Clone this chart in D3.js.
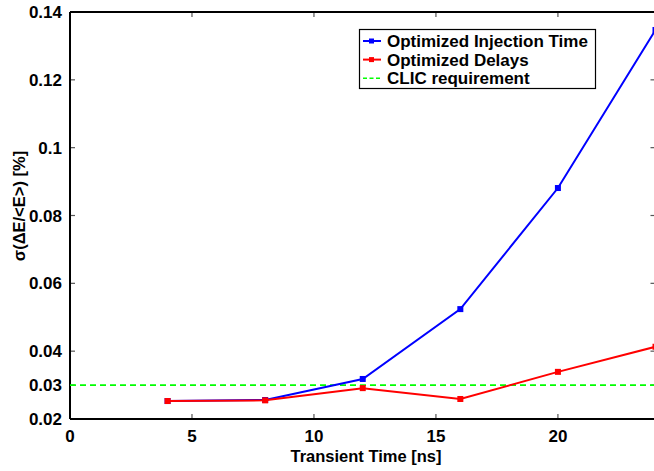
<!DOCTYPE html>
<html><head><meta charset="utf-8">
<script src="https://cdn.jsdelivr.net/npm/d3@7"></script>
<style>body{margin:0;background:#fff}svg{display:block}text{font-family:"Liberation Sans",Arial,sans-serif;font-weight:bold}</style>
</head><body><svg id="c" width="654" height="471"></svg>
<script>
const xVals = [4, 8, 12, 16, 20, 24];
const injectionTime = [0.0253, 0.0256, 0.0318, 0.0524, 0.0881, 0.1347];
const delays = [0.0253, 0.0255, 0.0291, 0.0259, 0.0339, 0.0413];
const requirement = 0.03;
const xTicks = [0, 5, 10, 15, 20];
const yTicks = [0.02, 0.03, 0.04, 0.06, 0.08, 0.1, 0.12, 0.14];
const legendLabels = ["Optimized Injection Time", "Optimized Delays", "CLIC requirement"];

const svg = d3.select("#c");
const L = 70, R = 655.5, T = 12, B = 419;
const x = d3.scaleLinear().domain([0, 24]).range([L, R]);
const y = d3.scaleLinear().domain([0.02, 0.14]).range([B, T]);

const g = svg.append("g");
xTicks.forEach(t => {
  g.append("line").attr("x1", x(t)).attr("x2", x(t)).attr("y1", B).attr("y2", B - 5).attr("stroke", "#555").attr("stroke-width", 1.2);
  g.append("line").attr("x1", x(t)).attr("x2", x(t)).attr("y1", T).attr("y2", T + 5).attr("stroke", "#555").attr("stroke-width", 1.2);
  g.append("text").attr("x", x(t)).attr("y", 442).attr("text-anchor", "middle").attr("font-size", 17).text(t);
});
yTicks.forEach(t => {
  g.append("line").attr("x1", L).attr("x2", L + 5).attr("y1", y(t)).attr("y2", y(t)).attr("stroke", "#555").attr("stroke-width", 1.2);
  g.append("line").attr("x1", R).attr("x2", R - 5).attr("y1", y(t)).attr("y2", y(t)).attr("stroke", "#555").attr("stroke-width", 1.2);
  g.append("text").attr("x", 62).attr("y", y(t)).attr("dy", "0.36em").attr("text-anchor", "end").attr("font-size", 17).text(d3.format("")(t));
});
svg.append("line").attr("x1", L).attr("x2", L).attr("y1", T).attr("y2", B).attr("stroke", "#000").attr("stroke-width", 2);
svg.append("line").attr("x1", L).attr("x2", R).attr("y1", T).attr("y2", T).attr("stroke", "#000").attr("stroke-width", 2);
svg.append("line").attr("x1", L).attr("x2", R).attr("y1", B).attr("y2", B).attr("stroke", "#000").attr("stroke-width", 2);

svg.append("line").attr("x1", L).attr("x2", R).attr("y1", y(requirement)).attr("y2", y(requirement))
  .attr("stroke", "#00ff00").attr("stroke-width", 1.6).attr("stroke-dasharray", "6,4");

const line = d3.line().x(d => x(d[0])).y(d => y(d[1]));
function series(vals, color) {
  const pts = xVals.map((v, i) => [v, vals[i]]);
  svg.append("path").attr("d", line(pts)).attr("fill", "none").attr("stroke", color).attr("stroke-width", 2);
  svg.selectAll(null).data(pts).enter().append("rect")
    .attr("x", d => x(d[0]) - 3).attr("y", d => y(d[1]) - 3).attr("width", 6).attr("height", 6).attr("fill", color);
}
series(injectionTime, "#0000ff");
series(delays, "#ff0000");

const lg = svg.append("g");
lg.append("rect").attr("x", 359.5).attr("y", 29.5).attr("width", 236).attr("height", 59).attr("fill", "#fff").attr("stroke", "#000").attr("stroke-width", 1.2);
const colors = ["#0000ff", "#ff0000", "#00ff00"];
legendLabels.forEach((lab, i) => {
  const yy = 41 + i * 18.6;
  const ln = lg.append("line").attr("x1", 363).attr("x2", 381).attr("y1", yy).attr("y2", yy).attr("stroke", colors[i]).attr("stroke-width", 2);
  if (i === 2) ln.attr("stroke-dasharray", "4,2.5").attr("stroke-width", 1.6);
  else lg.append("rect").attr("x", 369).attr("y", yy - 2.5).attr("width", 5).attr("height", 5).attr("fill", colors[i]);
  lg.append("text").attr("x", 387).attr("y", yy).attr("dy", "0.36em").attr("font-size", 17).text(lab);
});

svg.append("text").attr("x", 366).attr("y", 462).attr("text-anchor", "middle").attr("font-size", 16.5).text("Transient Time [ns]");
svg.append("text").attr("transform", "translate(25,206) rotate(-90)").attr("text-anchor", "middle").attr("font-size", 16.5).text("σ(ΔE/<E>) [%]");
</script></body></html>
